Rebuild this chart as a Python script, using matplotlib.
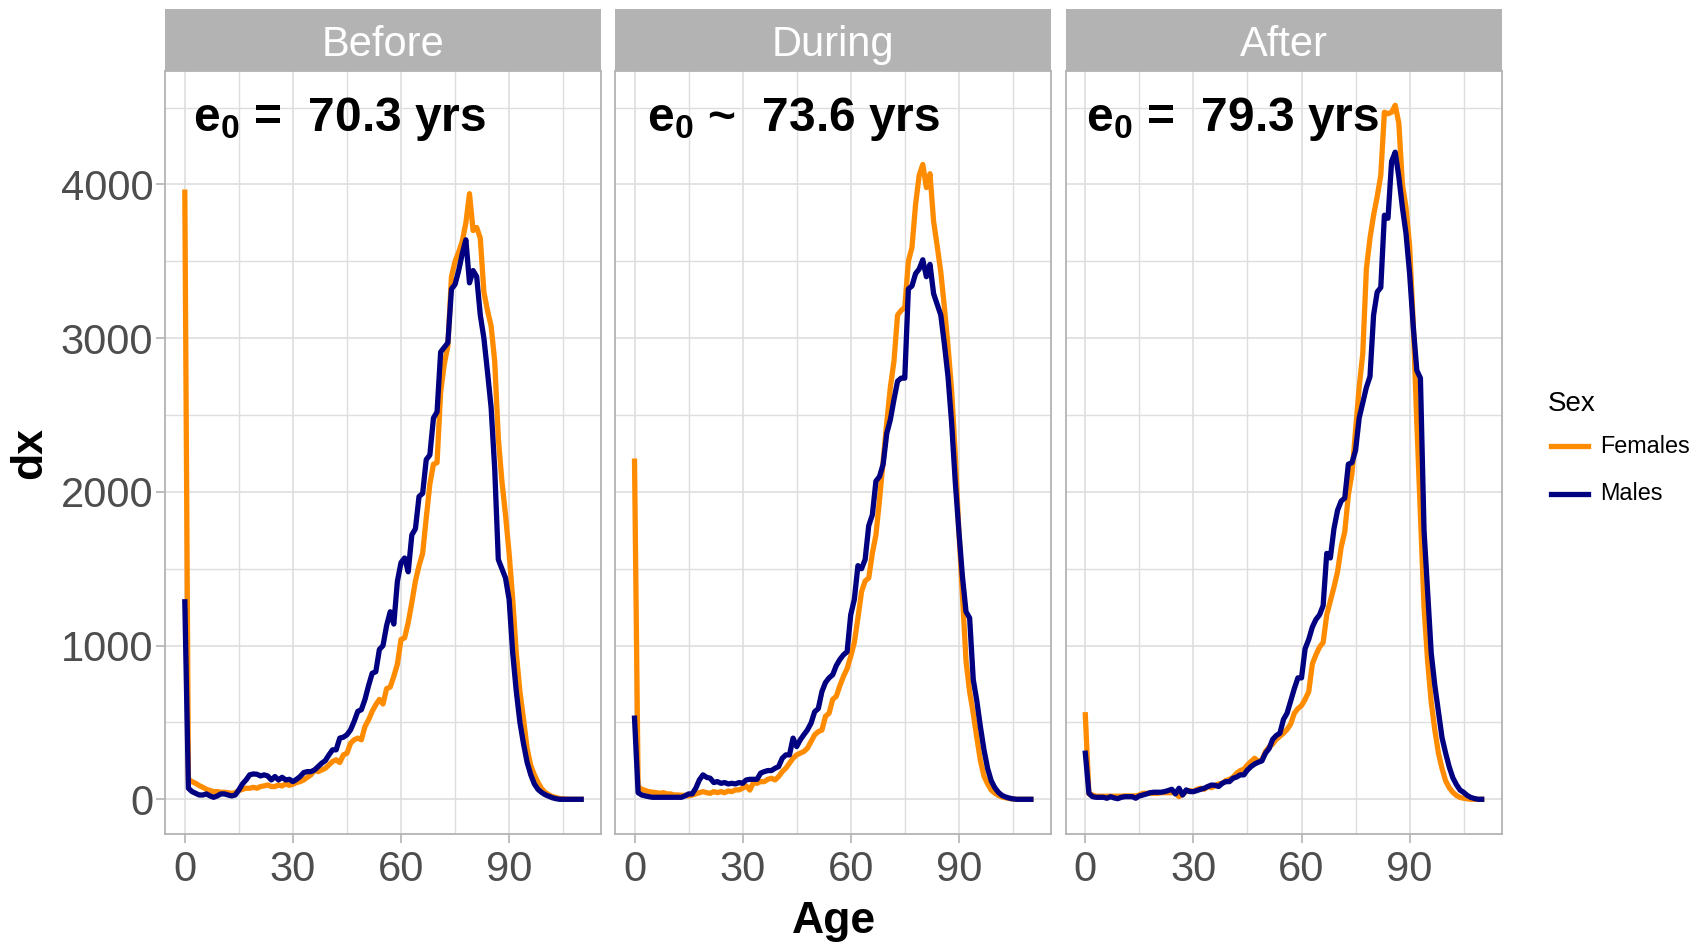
import matplotlib
matplotlib.use('Agg')
import matplotlib.pyplot as plt
from matplotlib.lines import Line2D

plt.rcParams['font.family'] = ['Liberation Sans', 'DejaVu Sans']
plt.rcParams['mathtext.fontset'] = 'custom'
plt.rcParams['mathtext.rm'] = 'Liberation Sans'
plt.rcParams['mathtext.bf'] = 'Liberation Sans:bold'

ages = list(range(111))

before_f = [3950, 130, 115, 104, 89, 78, 65, 57, 50, 50,
            46, 46, 43, 39, 43, 57, 65, 72, 72, 78,
            72, 83, 87, 93, 83, 83, 93, 87, 100, 91,
            98, 109, 115, 126, 143, 159, 190, 180, 191, 202,
            224, 246, 257, 239, 289, 300, 365, 387, 398, 387,
            474, 517, 572, 615, 650, 620, 720, 730, 800, 880,
            1040, 1050, 1150, 1280, 1420, 1520, 1600, 1830, 2050, 2180,
            2190, 2650, 2830, 2950, 3400, 3500, 3560, 3630, 3750, 3940,
            3700, 3720, 3650, 3300, 3180, 3080, 2850, 2350, 2070, 1850,
            1600, 1300, 950, 700, 520, 330, 220, 160, 110, 70,
            45, 30, 18, 12, 5, 3, 1, 0, 0, 0, 0]
before_m = [1285, 72, 50, 39, 28, 28, 35, 22, 13, 22,
            35, 35, 28, 22, 28, 61, 100, 126, 159, 165,
            163, 152, 159, 152, 126, 148, 126, 143, 126, 130,
            115, 130, 148, 174, 180, 180, 191, 213, 235, 252,
            289, 322, 322, 398, 404, 420, 452, 507, 572, 583,
            650, 740, 820, 830, 975, 1000, 1130, 1220, 1140, 1420,
            1540, 1570, 1480, 1720, 1760, 1970, 1990, 2210, 2240, 2480,
            2520, 2910, 2940, 2970, 3320, 3350, 3440, 3550, 3640, 3360,
            3440, 3400, 3150, 3000, 2780, 2550, 2150, 1560, 1500, 1440,
            1300, 950, 700, 500, 360, 240, 160, 100, 65, 45,
            30, 20, 10, 4, 0, 0, 0, 0, 0, 0, 0]
during_f = [2200, 83, 65, 57, 50, 46, 43, 39, 43, 35,
            35, 28, 28, 26, 26, 22, 28, 35, 43, 50,
            43, 39, 50, 43, 50, 43, 54, 50, 61, 61,
            72, 87, 60, 109, 104, 115, 115, 130, 137, 126,
            148, 180, 202, 235, 267, 289, 300, 311, 333, 376,
            420, 440, 450, 540, 560, 650, 670, 740, 800, 850,
            930, 1020, 1180, 1350, 1420, 1440, 1600, 1720, 1950, 2200,
            2450, 2680, 2850, 3150, 3180, 3200, 3500, 3590, 3870, 4060,
            4130, 3980, 4070, 3760, 3600, 3430, 3200, 2950, 2660, 2250,
            1750, 1330, 900, 700, 560, 400, 250, 150, 100, 60,
            40, 25, 15, 10, 5, 2, 0, 0, 0, 0, 0]
during_m = [528, 43, 28, 22, 17, 13, 13, 13, 13, 13,
            13, 13, 13, 13, 22, 35, 35, 72, 126, 159,
            143, 137, 109, 115, 104, 109, 100, 104, 100, 109,
            104, 126, 130, 130, 130, 170, 180, 187, 187, 202,
            213, 267, 289, 289, 398, 343, 387, 420, 452, 496,
            570, 590, 700, 760, 790, 810, 870, 910, 940, 960,
            1200, 1300, 1520, 1500, 1560, 1780, 1850, 2070, 2100, 2180,
            2380, 2470, 2600, 2720, 2740, 2740, 3320, 3340, 3420, 3450,
            3510, 3400, 3480, 3290, 3220, 3150, 2960, 2750, 2450, 2070,
            1750, 1450, 1220, 1180, 780, 640, 470, 320, 200, 120,
            75, 45, 25, 15, 8, 3, 0, 0, 0, 0, 0]
after_f = [550, 35, 28, 20, 20, 20, 20, 20, 20, 20,
           20, 22, 22, 22, 22, 28, 39, 39, 39, 39,
           39, 43, 43, 43, 43, 43, 17, 35, 50, 57,
           50, 65, 72, 65, 83, 76, 89, 100, 104, 122,
           130, 143, 170, 187, 196, 224, 246, 267, 246, 257,
           310, 340, 360, 390, 410, 430, 455, 490, 560, 590,
           610, 650, 700, 880, 940, 990, 1020, 1200, 1290, 1380,
           1480, 1640, 1740, 1980, 2120, 2400, 2680, 2900, 3450, 3650,
           3800, 3920, 4060, 4470, 4460, 4470, 4515, 4400, 4000, 3850,
           3600, 3100, 2450, 1850, 1250, 900, 630, 450, 300, 200,
           120, 75, 45, 25, 12, 7, 3, 0, 0, 0, 0]
after_m = [300, 39, 17, 13, 13, 13, 7, 17, 9, 4,
           13, 17, 17, 17, 7, 22, 28, 35, 43, 46,
           46, 46, 50, 57, 65, 35, 72, 28, 61, 50,
           50, 57, 65, 72, 83, 93, 91, 83, 104, 115,
           115, 137, 145, 159, 159, 191, 213, 230, 241, 250,
           300, 330, 390, 415, 430, 520, 560, 640, 720, 790,
           790, 980, 1040, 1120, 1170, 1200, 1260, 1600, 1570, 1760,
           1880, 1940, 1960, 2180, 2190, 2270, 2480, 2580, 2680, 2750,
           3150, 3300, 3330, 3800, 3780, 4150, 4210, 4050, 3850, 3680,
           3420, 3080, 2790, 2740, 1750, 1350, 950, 740, 570, 400,
           300, 210, 140, 95, 60, 45, 25, 12, 5, 0, 0]

periods = ['Before', 'During', 'After']
e0_labels = [r'e$_\mathbf{0}$ =  70.3 yrs', r'e$_\mathbf{0}$ ~  73.6 yrs', r'e$_\mathbf{0}$ =  79.3 yrs']
e0_x = [2.3, 3.6, 0.3]
females = [before_f, during_f, after_f]
males = [before_m, during_m, after_m]
sex_labels = ['Females', 'Males']

W, H = 1703, 943
ORANGE = '#FF8C00'
NAVY = '#000080'
GRID = '#DEDEDE'
BORDER = '#B3B3B3'


def px_rect(l, t, w, h):
    return [l / W, 1 - (t + h) / H, w / W, h / H]


fig = plt.figure(figsize=(W / 100, H / 100), dpi=100)

ymax = max(max(s) for s in females + males)
pad = ymax * 0.05
lefts = [165, 614.7, 1065.5]

for i in range(3):
    ax = fig.add_axes(px_rect(lefts[i], 70.6, 436, 763.4))
    ax.plot(ages, females[i], color=ORANGE, lw=3.8, solid_joinstyle='round')
    ax.plot(ages, males[i], color=NAVY, lw=3.8, solid_joinstyle='round')
    ax.set_xlim(-5.5, 115.5)
    ax.set_ylim(-pad, ymax + pad)
    ax.set_xticks([0, 30, 60, 90])
    ax.set_xticks([15, 45, 75, 105], minor=True)
    ax.set_yticks([0, 1000, 2000, 3000, 4000])
    ax.set_yticks([500, 1500, 2500, 3500, 4500], minor=True)
    ax.grid(which='major', color=GRID, lw=1.2)
    ax.grid(which='minor', color=GRID, lw=1.0)
    ax.set_axisbelow(True)
    for s in ax.spines.values():
        s.set_color(BORDER)
        s.set_linewidth(1.3)
    ax.tick_params(which='major', length=6.5, width=1.2, color=BORDER,
                   labelsize=30, labelcolor='#4D4D4D', pad=2)
    ax.tick_params(axis='x', pad=5)
    ax.tick_params(which='minor', length=0)
    if i > 0:
        ax.tick_params(axis='y', left=False, labelleft=False)
    ax.text(e0_x[i], 4346, e0_labels[i], fontsize=34.5, fontweight='bold',
            ha='left', va='baseline')

    sax = fig.add_axes(px_rect(lefts[i], 8.7, 436, 61.9))
    sax.set_facecolor(BORDER)
    sax.set_xticks([])
    sax.set_yticks([])
    for s in sax.spines.values():
        s.set_visible(False)
    sax.text(0.5, 0.41, periods[i], color='white', fontsize=30,
             ha='center', va='center', transform=sax.transAxes)

fig.text(30 / W, 1 - 453 / H, 'dx', rotation=90, fontsize=32, fontweight='bold',
         ha='center', va='center')
fig.text(834 / W, 1 - 921 / H, 'Age', fontsize=32, fontweight='bold',
         ha='center', va='center')

# legend drawn by hand so spacing matches ggplot
fig.text(1548 / W, 1 - 404 / H, 'Sex', fontsize=20, ha='left', va='center')
key_y = [446, 494]
for c, lab, y in zip([ORANGE, NAVY], sex_labels, key_y):
    fig.add_artist(Line2D([1551 / W, 1588 / W], [1 - y / H, 1 - y / H],
                          color=c, lw=3.8, transform=fig.transFigure))
    fig.text(1600 / W, 1 - y / H, lab, fontsize=16.8, ha='left', va='center')

fig.savefig('out.png', dpi=100)
